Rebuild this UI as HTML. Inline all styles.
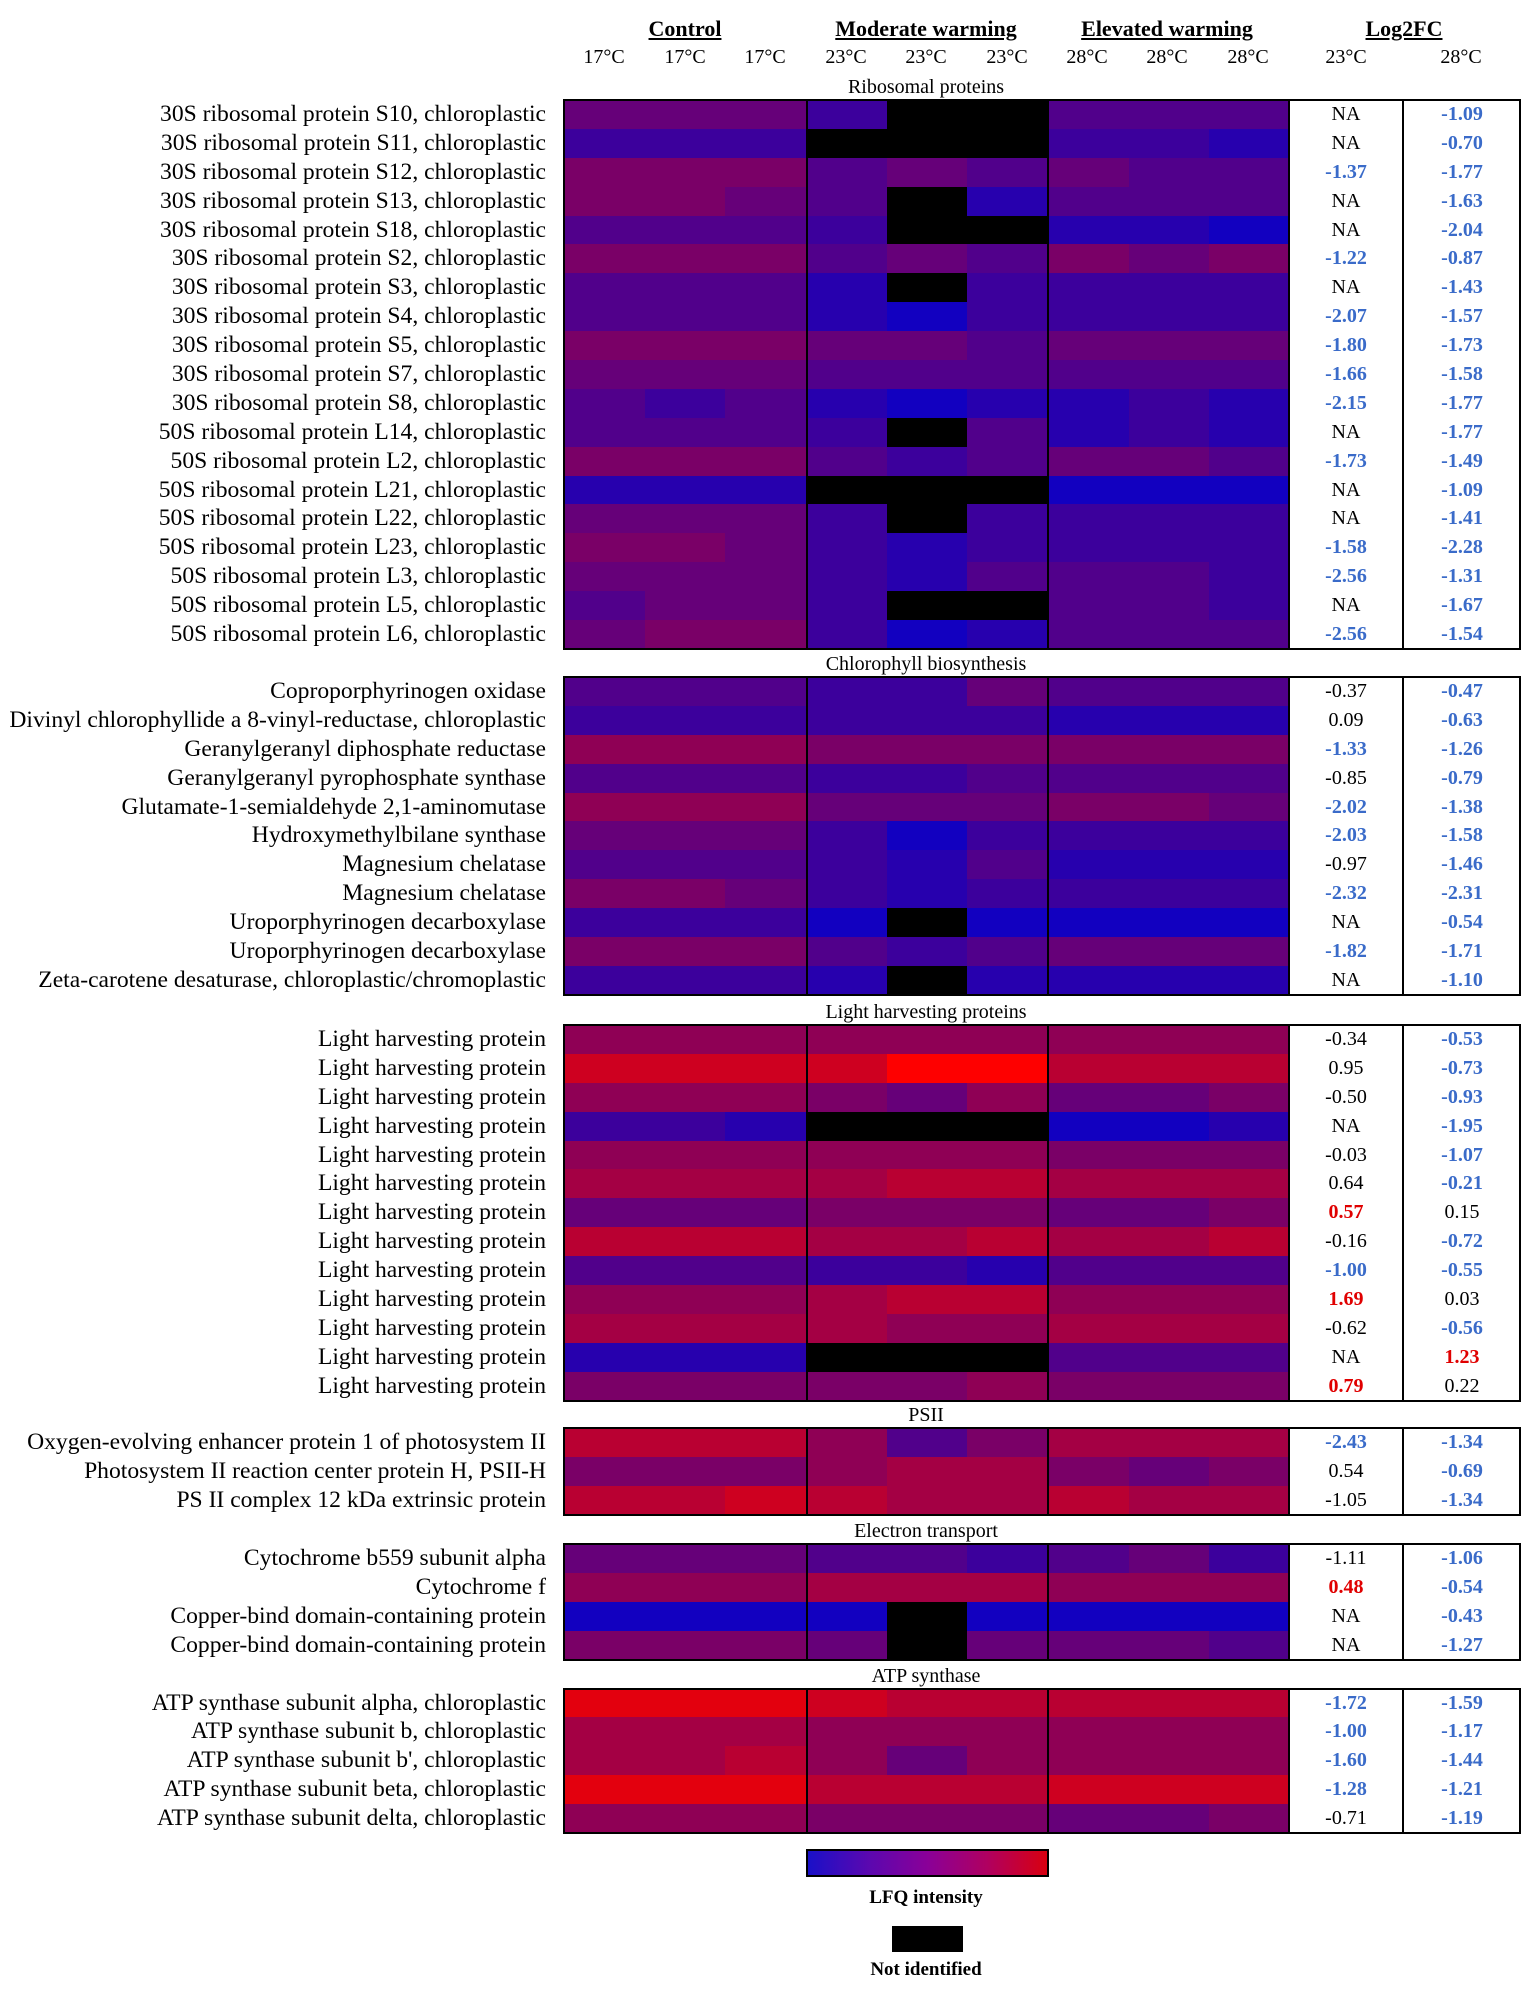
<!DOCTYPE html>
<html><head><meta charset="utf-8">
<style>
html,body{margin:0;padding:0;background:#fff;}
body{width:1535px;height:1989px;position:relative;overflow:hidden;font-family:"Liberation Serif",serif;color:#000;}
.h{position:absolute;font-weight:bold;text-decoration:underline;font-size:22px;transform:translateX(-50%);white-space:nowrap;top:16px;}
.t{position:absolute;font-size:20px;transform:translateX(-50%);top:46px;white-space:nowrap;}
.st{position:absolute;font-size:20px;left:926px;transform:translateX(-50%);white-space:nowrap;}
.sec{position:absolute;left:0;width:1535px;}
.r{position:relative;height:28.9px;}
.l{position:absolute;right:989px;top:0;line-height:28.9px;font-size:23.6px;white-space:nowrap;}
.c{position:absolute;top:0;height:28.9px;width:80.7px;}
.v{position:absolute;top:0;line-height:28.9px;font-size:20px;width:114px;text-align:center;}
.v1{left:1289px;}
.v2{left:1403px;width:118px;}
.b{color:#3a6bc9;font-weight:bold;}
.rd{color:#e00000;font-weight:bold;}
.box{position:absolute;left:563px;width:958px;border:2px solid #000;box-sizing:border-box;pointer-events:none;}
.vl{position:absolute;width:2px;background:#000;}
</style></head><body>
<div class="h" style="left:685px">Control</div>
<div class="h" style="left:926px">Moderate warming</div>
<div class="h" style="left:1167px">Elevated warming</div>
<div class="h" style="left:1404px">Log2FC</div>
<div class="t" style="left:604px">17°C</div><div class="t" style="left:685px">17°C</div><div class="t" style="left:765px">17°C</div>
<div class="t" style="left:846px">23°C</div><div class="t" style="left:926px">23°C</div><div class="t" style="left:1007px">23°C</div>
<div class="t" style="left:1087px">28°C</div><div class="t" style="left:1167px">28°C</div><div class="t" style="left:1248px">28°C</div>
<div class="t" style="left:1346px">23°C</div><div class="t" style="left:1461px">28°C</div>

<div class="st" style="top:76px">Ribosomal proteins</div>
<div class="sec" style="top:100px">
<div class="r"><span class="l">30S ribosomal protein S10, chloroplastic</span><span class="v v1">NA</span><span class="v v2 b">-1.09</span></div>
<div class="r"><span class="l">30S ribosomal protein S11, chloroplastic</span><span class="v v1">NA</span><span class="v v2 b">-0.70</span></div>
<div class="r"><span class="l">30S ribosomal protein S12, chloroplastic</span><span class="v v1 b">-1.37</span><span class="v v2 b">-1.77</span></div>
<div class="r"><span class="l">30S ribosomal protein S13, chloroplastic</span><span class="v v1">NA</span><span class="v v2 b">-1.63</span></div>
<div class="r"><span class="l">30S ribosomal protein S18, chloroplastic</span><span class="v v1">NA</span><span class="v v2 b">-2.04</span></div>
<div class="r"><span class="l">30S ribosomal protein S2, chloroplastic</span><span class="v v1 b">-1.22</span><span class="v v2 b">-0.87</span></div>
<div class="r"><span class="l">30S ribosomal protein S3, chloroplastic</span><span class="v v1">NA</span><span class="v v2 b">-1.43</span></div>
<div class="r"><span class="l">30S ribosomal protein S4, chloroplastic</span><span class="v v1 b">-2.07</span><span class="v v2 b">-1.57</span></div>
<div class="r"><span class="l">30S ribosomal protein S5, chloroplastic</span><span class="v v1 b">-1.80</span><span class="v v2 b">-1.73</span></div>
<div class="r"><span class="l">30S ribosomal protein S7, chloroplastic</span><span class="v v1 b">-1.66</span><span class="v v2 b">-1.58</span></div>
<div class="r"><span class="l">30S ribosomal protein S8, chloroplastic</span><span class="v v1 b">-2.15</span><span class="v v2 b">-1.77</span></div>
<div class="r"><span class="l">50S ribosomal protein L14, chloroplastic</span><span class="v v1">NA</span><span class="v v2 b">-1.77</span></div>
<div class="r"><span class="l">50S ribosomal protein L2, chloroplastic</span><span class="v v1 b">-1.73</span><span class="v v2 b">-1.49</span></div>
<div class="r"><span class="l">50S ribosomal protein L21, chloroplastic</span><span class="v v1">NA</span><span class="v v2 b">-1.09</span></div>
<div class="r"><span class="l">50S ribosomal protein L22, chloroplastic</span><span class="v v1">NA</span><span class="v v2 b">-1.41</span></div>
<div class="r"><span class="l">50S ribosomal protein L23, chloroplastic</span><span class="v v1 b">-1.58</span><span class="v v2 b">-2.28</span></div>
<div class="r"><span class="l">50S ribosomal protein L3, chloroplastic</span><span class="v v1 b">-2.56</span><span class="v v2 b">-1.31</span></div>
<div class="r"><span class="l">50S ribosomal protein L5, chloroplastic</span><span class="v v1">NA</span><span class="v v2 b">-1.67</span></div>
<div class="r"><span class="l">50S ribosomal protein L6, chloroplastic</span><span class="v v1 b">-2.56</span><span class="v v2 b">-1.54</span></div>
</div>

<div class="st" style="top:653px">Chlorophyll biosynthesis</div>
<div class="sec" style="top:677px">
<div class="r"><span class="l">Coproporphyrinogen oxidase</span><span class="v v1">-0.37</span><span class="v v2 b">-0.47</span></div>
<div class="r"><span class="l">Divinyl chlorophyllide a 8-vinyl-reductase, chloroplastic</span><span class="v v1">0.09</span><span class="v v2 b">-0.63</span></div>
<div class="r"><span class="l">Geranylgeranyl diphosphate reductase</span><span class="v v1 b">-1.33</span><span class="v v2 b">-1.26</span></div>
<div class="r"><span class="l">Geranylgeranyl pyrophosphate synthase</span><span class="v v1">-0.85</span><span class="v v2 b">-0.79</span></div>
<div class="r"><span class="l">Glutamate-1-semialdehyde 2,1-aminomutase</span><span class="v v1 b">-2.02</span><span class="v v2 b">-1.38</span></div>
<div class="r"><span class="l">Hydroxymethylbilane synthase</span><span class="v v1 b">-2.03</span><span class="v v2 b">-1.58</span></div>
<div class="r"><span class="l">Magnesium chelatase</span><span class="v v1">-0.97</span><span class="v v2 b">-1.46</span></div>
<div class="r"><span class="l">Magnesium chelatase</span><span class="v v1 b">-2.32</span><span class="v v2 b">-2.31</span></div>
<div class="r"><span class="l">Uroporphyrinogen decarboxylase</span><span class="v v1">NA</span><span class="v v2 b">-0.54</span></div>
<div class="r"><span class="l">Uroporphyrinogen decarboxylase</span><span class="v v1 b">-1.82</span><span class="v v2 b">-1.71</span></div>
<div class="r"><span class="l">Zeta-carotene desaturase, chloroplastic/chromoplastic</span><span class="v v1">NA</span><span class="v v2 b">-1.10</span></div>
</div>

<div class="st" style="top:1001px">Light harvesting proteins</div>
<div class="sec" style="top:1025px">
<div class="r"><span class="l">Light harvesting protein</span><span class="v v1">-0.34</span><span class="v v2 b">-0.53</span></div>
<div class="r"><span class="l">Light harvesting protein</span><span class="v v1">0.95</span><span class="v v2 b">-0.73</span></div>
<div class="r"><span class="l">Light harvesting protein</span><span class="v v1">-0.50</span><span class="v v2 b">-0.93</span></div>
<div class="r"><span class="l">Light harvesting protein</span><span class="v v1">NA</span><span class="v v2 b">-1.95</span></div>
<div class="r"><span class="l">Light harvesting protein</span><span class="v v1">-0.03</span><span class="v v2 b">-1.07</span></div>
<div class="r"><span class="l">Light harvesting protein</span><span class="v v1">0.64</span><span class="v v2 b">-0.21</span></div>
<div class="r"><span class="l">Light harvesting protein</span><span class="v v1 rd">0.57</span><span class="v v2">0.15</span></div>
<div class="r"><span class="l">Light harvesting protein</span><span class="v v1">-0.16</span><span class="v v2 b">-0.72</span></div>
<div class="r"><span class="l">Light harvesting protein</span><span class="v v1 b">-1.00</span><span class="v v2 b">-0.55</span></div>
<div class="r"><span class="l">Light harvesting protein</span><span class="v v1 rd">1.69</span><span class="v v2">0.03</span></div>
<div class="r"><span class="l">Light harvesting protein</span><span class="v v1">-0.62</span><span class="v v2 b">-0.56</span></div>
<div class="r"><span class="l">Light harvesting protein</span><span class="v v1">NA</span><span class="v v2 rd">1.23</span></div>
<div class="r"><span class="l">Light harvesting protein</span><span class="v v1 rd">0.79</span><span class="v v2">0.22</span></div>
</div>

<div class="st" style="top:1404px">PSII</div>
<div class="sec" style="top:1428px">
<div class="r"><span class="l">Oxygen-evolving enhancer protein 1 of photosystem II</span><span class="v v1 b">-2.43</span><span class="v v2 b">-1.34</span></div>
<div class="r"><span class="l">Photosystem II reaction center protein H, PSII-H</span><span class="v v1">0.54</span><span class="v v2 b">-0.69</span></div>
<div class="r"><span class="l">PS II complex 12 kDa extrinsic protein</span><span class="v v1">-1.05</span><span class="v v2 b">-1.34</span></div>
</div>

<div class="st" style="top:1520px">Electron transport</div>
<div class="sec" style="top:1544px">
<div class="r"><span class="l">Cytochrome b559 subunit alpha</span><span class="v v1">-1.11</span><span class="v v2 b">-1.06</span></div>
<div class="r"><span class="l">Cytochrome f</span><span class="v v1 rd">0.48</span><span class="v v2 b">-0.54</span></div>
<div class="r"><span class="l">Copper-bind domain-containing protein</span><span class="v v1">NA</span><span class="v v2 b">-0.43</span></div>
<div class="r"><span class="l">Copper-bind domain-containing protein</span><span class="v v1">NA</span><span class="v v2 b">-1.27</span></div>
</div>

<div class="st" style="top:1665px">ATP synthase</div>
<div class="sec" style="top:1688.5px">
<div class="r"><span class="l">ATP synthase subunit alpha, chloroplastic</span><span class="v v1 b">-1.72</span><span class="v v2 b">-1.59</span></div>
<div class="r"><span class="l">ATP synthase subunit b, chloroplastic</span><span class="v v1 b">-1.00</span><span class="v v2 b">-1.17</span></div>
<div class="r"><span class="l">ATP synthase subunit b', chloroplastic</span><span class="v v1 b">-1.60</span><span class="v v2 b">-1.44</span></div>
<div class="r"><span class="l">ATP synthase subunit beta, chloroplastic</span><span class="v v1 b">-1.28</span><span class="v v2 b">-1.21</span></div>
<div class="r"><span class="l">ATP synthase subunit delta, chloroplastic</span><span class="v v1">-0.71</span><span class="v v2 b">-1.19</span></div>
</div>

<div style="position:absolute;left:806px;top:1849px;width:243px;height:28px;border:2px solid #000;box-sizing:border-box;background:linear-gradient(to right,#1a10c8,#5a08b0 25%,#8a0098 50%,#b00060 75%,#d80010)"></div>
<div style="position:absolute;left:926px;top:1887px;transform:translateX(-50%);font-weight:bold;font-size:19px;white-space:nowrap">LFQ intensity</div>
<div style="position:absolute;left:892px;top:1926px;width:71px;height:26px;background:#000"></div>
<div style="position:absolute;left:926px;top:1959px;transform:translateX(-50%);font-weight:bold;font-size:19px;white-space:nowrap">Not identified</div>

<script>
var codes=[
"4442xx333","222xxx221","555343433","5543x1333","3332xx110","555343545","3331x2222","333102222","555443444","444333333","323101121","3332x3121","555323443","111xxx000","4442x2222","554212222","444213332","3442xx332","455201333",
"333224333","222222111","666555555","333223333","666444554","444202222","333213111","554212222","2220x0000","555323444","2221x1111",
"666666666","9999RR888","666546445","221xxx001","666666555","777788777","444555445","888778778","333221333","666788666","777766777","111xxx333","555556555",
"888635777","555677545","889877877",
"444332342","666777666","0000x0000","5554x4443",
"AAA988888","777666666","778646666","AAA888999","666555445"];
function col(ch){
 if(ch=='x')return '#000';
 if(ch=='R')return '#fe0000';
 var v=ch=='A'?10:+ch;
 var r=Math.round(18+188*v/9),b=Math.round(192-160*v/9);
 if(r>228)r=228; if(b<14)b=14;
 return 'rgb('+r+',0,'+b+')';
}
var rows=document.querySelectorAll('.r');
rows.forEach(function(row,i){
 var c=codes[i];
 for(var j=0;j<9;j++){
  var d=document.createElement('div');d.className='c';
  d.style.left=(564+j*80.67)+'px';d.style.background=col(c[j]);
  row.insertBefore(d,row.firstChild);
 }
});
var secs=[[100,19],[677,11],[1025,13],[1428,3],[1544,4],[1688.5,5]];
secs.forEach(function(s){
 var h=s[1]*28.9;
 var b=document.createElement('div');b.className='box';
 b.style.top=(s[0]-1)+'px';b.style.height=(h+2)+'px';document.body.appendChild(b);
 [806,1047,1288,1402].forEach(function(x){
  var l=document.createElement('div');l.className='vl';l.style.left=x+'px';
  l.style.top=s[0]+'px';l.style.height=h+'px';document.body.appendChild(l);
 });
});
</script>
</body></html>
